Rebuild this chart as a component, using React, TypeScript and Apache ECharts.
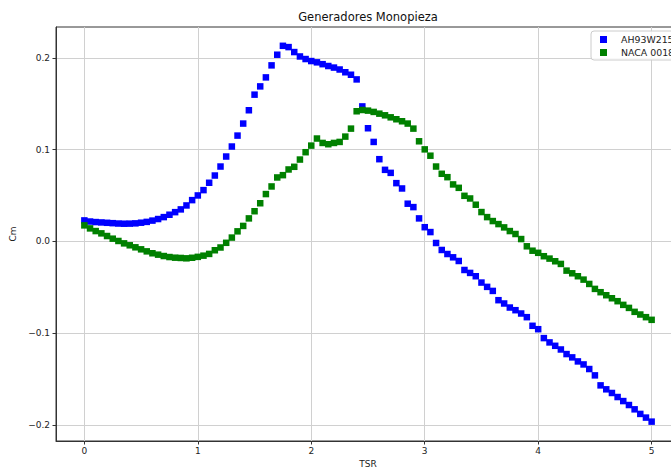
import React, { useEffect, useRef } from "react";
import * as echarts from "echarts";

const TITLE = "Generadores Monopieza";
const X_LABEL = "TSR";
const Y_LABEL = "Cm";
const SERIES_NAMES = ["AH93W215", "NACA 0018"];
const X_TICKS = [0, 1, 2, 3, 4, 5];
const Y_TICKS = [-0.2, -0.1, 0, 0.1, 0.2];

const tsr = [
  0.0, 0.05, 0.1, 0.15, 0.2, 0.25, 0.3, 0.35, 0.4, 0.45,
  0.5, 0.55, 0.6, 0.65, 0.7, 0.75, 0.8, 0.85, 0.9, 0.95,
  1.0, 1.05, 1.1, 1.15, 1.2, 1.25, 1.3, 1.35, 1.4, 1.45,
  1.5, 1.55, 1.6, 1.65, 1.7, 1.75, 1.8, 1.85, 1.9, 1.95,
  2.0, 2.05, 2.1, 2.15, 2.2, 2.25, 2.3, 2.35, 2.4, 2.45,
  2.5, 2.55, 2.6, 2.65, 2.7, 2.75, 2.8, 2.85, 2.9, 2.95,
  3.0, 3.05, 3.1, 3.15, 3.2, 3.25, 3.3, 3.35, 3.4, 3.45,
  3.5, 3.55, 3.6, 3.65, 3.7, 3.75, 3.8, 3.85, 3.9, 3.95,
  4.0, 4.05, 4.1, 4.15, 4.2, 4.25, 4.3, 4.35, 4.4, 4.45,
  4.5, 4.55, 4.6, 4.65, 4.7, 4.75, 4.8, 4.85, 4.9, 4.95,
  5.0,
];

const ah93w215 = [
  0.0228, 0.0216, 0.021, 0.0206, 0.0202, 0.0198, 0.0194, 0.0192, 0.0193, 0.0196,
  0.0203, 0.0212, 0.0226, 0.0243, 0.0264, 0.029, 0.0318, 0.0348, 0.0391, 0.0449,
  0.05, 0.0558, 0.0638, 0.0717, 0.0815, 0.0924, 0.1033, 0.1152, 0.1283, 0.1428,
  0.1598, 0.1688, 0.1786, 0.1917, 0.2033, 0.213, 0.2116, 0.2062, 0.2014, 0.1986,
  0.1964, 0.195, 0.193, 0.191, 0.1893, 0.1872, 0.1842, 0.1815, 0.1764, 0.147,
  0.1232, 0.1083, 0.0895, 0.0779, 0.0746, 0.0634, 0.0576, 0.041, 0.0373, 0.025,
  0.0154, 0.0101, -0.0018, -0.0094, -0.0138, -0.0174, -0.0214, -0.0312, -0.0344, -0.038,
  -0.0449, -0.0496, -0.054, -0.0641, -0.0677, -0.0721, -0.075, -0.0786, -0.0826, -0.092,
  -0.0957, -0.1054, -0.1101, -0.1138, -0.1178, -0.1228, -0.1264, -0.1308, -0.1341, -0.1391,
  -0.146, -0.1569, -0.1612, -0.1652, -0.1696, -0.174, -0.1783, -0.183, -0.188, -0.192,
  -0.1964,
];

const naca0018 = [
  0.0174, 0.0141, 0.0112, 0.0087, 0.0058, 0.0029, 0.0004, -0.0022, -0.0043, -0.0065,
  -0.0087, -0.0109, -0.013, -0.0145, -0.016, -0.0171, -0.0178, -0.0181, -0.0185, -0.0179,
  -0.0169, -0.0156, -0.0137, -0.0097, -0.0067, -0.0016, 0.0041, 0.0109, 0.0168, 0.025,
  0.0328, 0.0415, 0.0515, 0.0598, 0.0696, 0.0721, 0.0783, 0.0812, 0.0891, 0.0971,
  0.1043, 0.112, 0.1072, 0.1058, 0.1072, 0.1083, 0.1141, 0.1228, 0.1417, 0.1431,
  0.1424, 0.141, 0.1391, 0.1373, 0.1351, 0.133, 0.1308, 0.1283, 0.1228, 0.109,
  0.1002, 0.0933, 0.0815, 0.0736, 0.0699, 0.062, 0.0583, 0.0496, 0.0467, 0.0399,
  0.0319, 0.0264, 0.0221, 0.0188, 0.0152, 0.0112, 0.008, 0.0025, -0.0054, -0.0102,
  -0.0125, -0.0162, -0.0188, -0.0217, -0.0246, -0.0319, -0.0348, -0.038, -0.0417, -0.0464,
  -0.0518, -0.0554, -0.0587, -0.062, -0.0652, -0.0692, -0.0725, -0.0768, -0.0797, -0.0826,
  -0.0855,
];

const FONT = "DejaVu Sans";

function fmtY(v: number): string {
  const r = Math.round(v * 10) / 10;
  if (Math.abs(r) < 1e-9) return "0.0";
  return (r < 0 ? "\u2212" : "") + Math.abs(r).toFixed(1);
}

export default function App() {
  const ref = useRef<HTMLDivElement>(null);
  useEffect(() => {
    const chart = echarts.init(ref.current!, null, { renderer: "svg" });
    const pairs = (ys: number[]) => tsr.map((x, i) => [x, ys[i]]);
    chart.setOption({
      animation: false,
      backgroundColor: "#ffffff",
      graphic: [
        {
          type: "text",
          x: 368,
          y: 17,
          style: {
            text: TITLE,
            font: `11.5px "${FONT}"`,
            fill: "#111",
            textAlign: "center",
            textVerticalAlign: "middle",
          },
        },
      ],
      grid: {
        left: 56,
        top: 27,
        width: 624,
        height: 414,
        show: true,
        borderColor: "#333",
        borderWidth: 1,
        containLabel: false,
        outerBoundsMode: "none",
      },
      legend: {
        orient: "vertical",
        left: 591,
        top: 31,
        itemWidth: 7,
        itemHeight: 7,
        itemGap: 4,
        icon: "rect",
        borderColor: "#cccccc",
        borderWidth: 1,
        borderRadius: 3,
        padding: [4, 30, 3, 9],
        backgroundColor: "rgba(255,255,255,0.85)",
        textStyle: {
          fontSize: 9.4,
          fontFamily: FONT,
          color: "#222",
          padding: [0, 0, 0, 9],
        },
        data: SERIES_NAMES,
      },
      xAxis: {
        type: "value",
        min: -0.25,
        max: 5.25,
        name: X_LABEL,
        nameLocation: "middle",
        nameGap: 17,
        nameTextStyle: { fontFamily: FONT, fontSize: 9, color: "#222" },
        axisLine: { onZero: false, lineStyle: { color: "#333", width: 1 } },
        axisTick: {
          show: true,
          inside: false,
          length: 3.5,
          customValues: X_TICKS,
          lineStyle: { color: "#333" },
        },
        axisLabel: {
          customValues: X_TICKS,
          fontFamily: FONT,
          fontSize: 9,
          color: "#222",
          margin: 5,
          formatter: (v: number) => String(v),
        },
        splitLine: { show: true, lineStyle: { color: "#d0d0d0", width: 1 } },
      },
      yAxis: {
        type: "value",
        min: -0.2175,
        max: 0.2335,
        name: Y_LABEL,
        nameLocation: "middle",
        nameGap: 34,
        nameRotate: 90,
        nameTextStyle: { fontFamily: FONT, fontSize: 9, color: "#222" },
        axisLine: { show: true, onZero: false, lineStyle: { color: "#333", width: 1 } },
        axisTick: {
          show: true,
          inside: false,
          length: 3.5,
          customValues: Y_TICKS,
          lineStyle: { color: "#333" },
        },
        axisLabel: {
          customValues: Y_TICKS,
          fontFamily: FONT,
          fontSize: 9,
          color: "#222",
          margin: 6,
          formatter: (v: number) => fmtY(v),
        },
        splitLine: { show: true, lineStyle: { color: "#d0d0d0", width: 1 } },
      },
      series: [
        {
          name: SERIES_NAMES[0],
          type: "scatter",
          symbol: "rect",
          symbolSize: 6.5,
          itemStyle: { color: "#0000ff", opacity: 1 },
          data: pairs(ah93w215),
        },
        {
          name: SERIES_NAMES[1],
          type: "scatter",
          symbol: "rect",
          symbolSize: 6.5,
          itemStyle: { color: "#008000", opacity: 1 },
          data: pairs(naca0018),
        },
      ],
    });
    return () => chart.dispose();
  }, []);
  return (
    <div
      ref={ref}
      style={{ position: "fixed", left: 0, top: 0, width: 671, height: 468 }}
    />
  );
}
